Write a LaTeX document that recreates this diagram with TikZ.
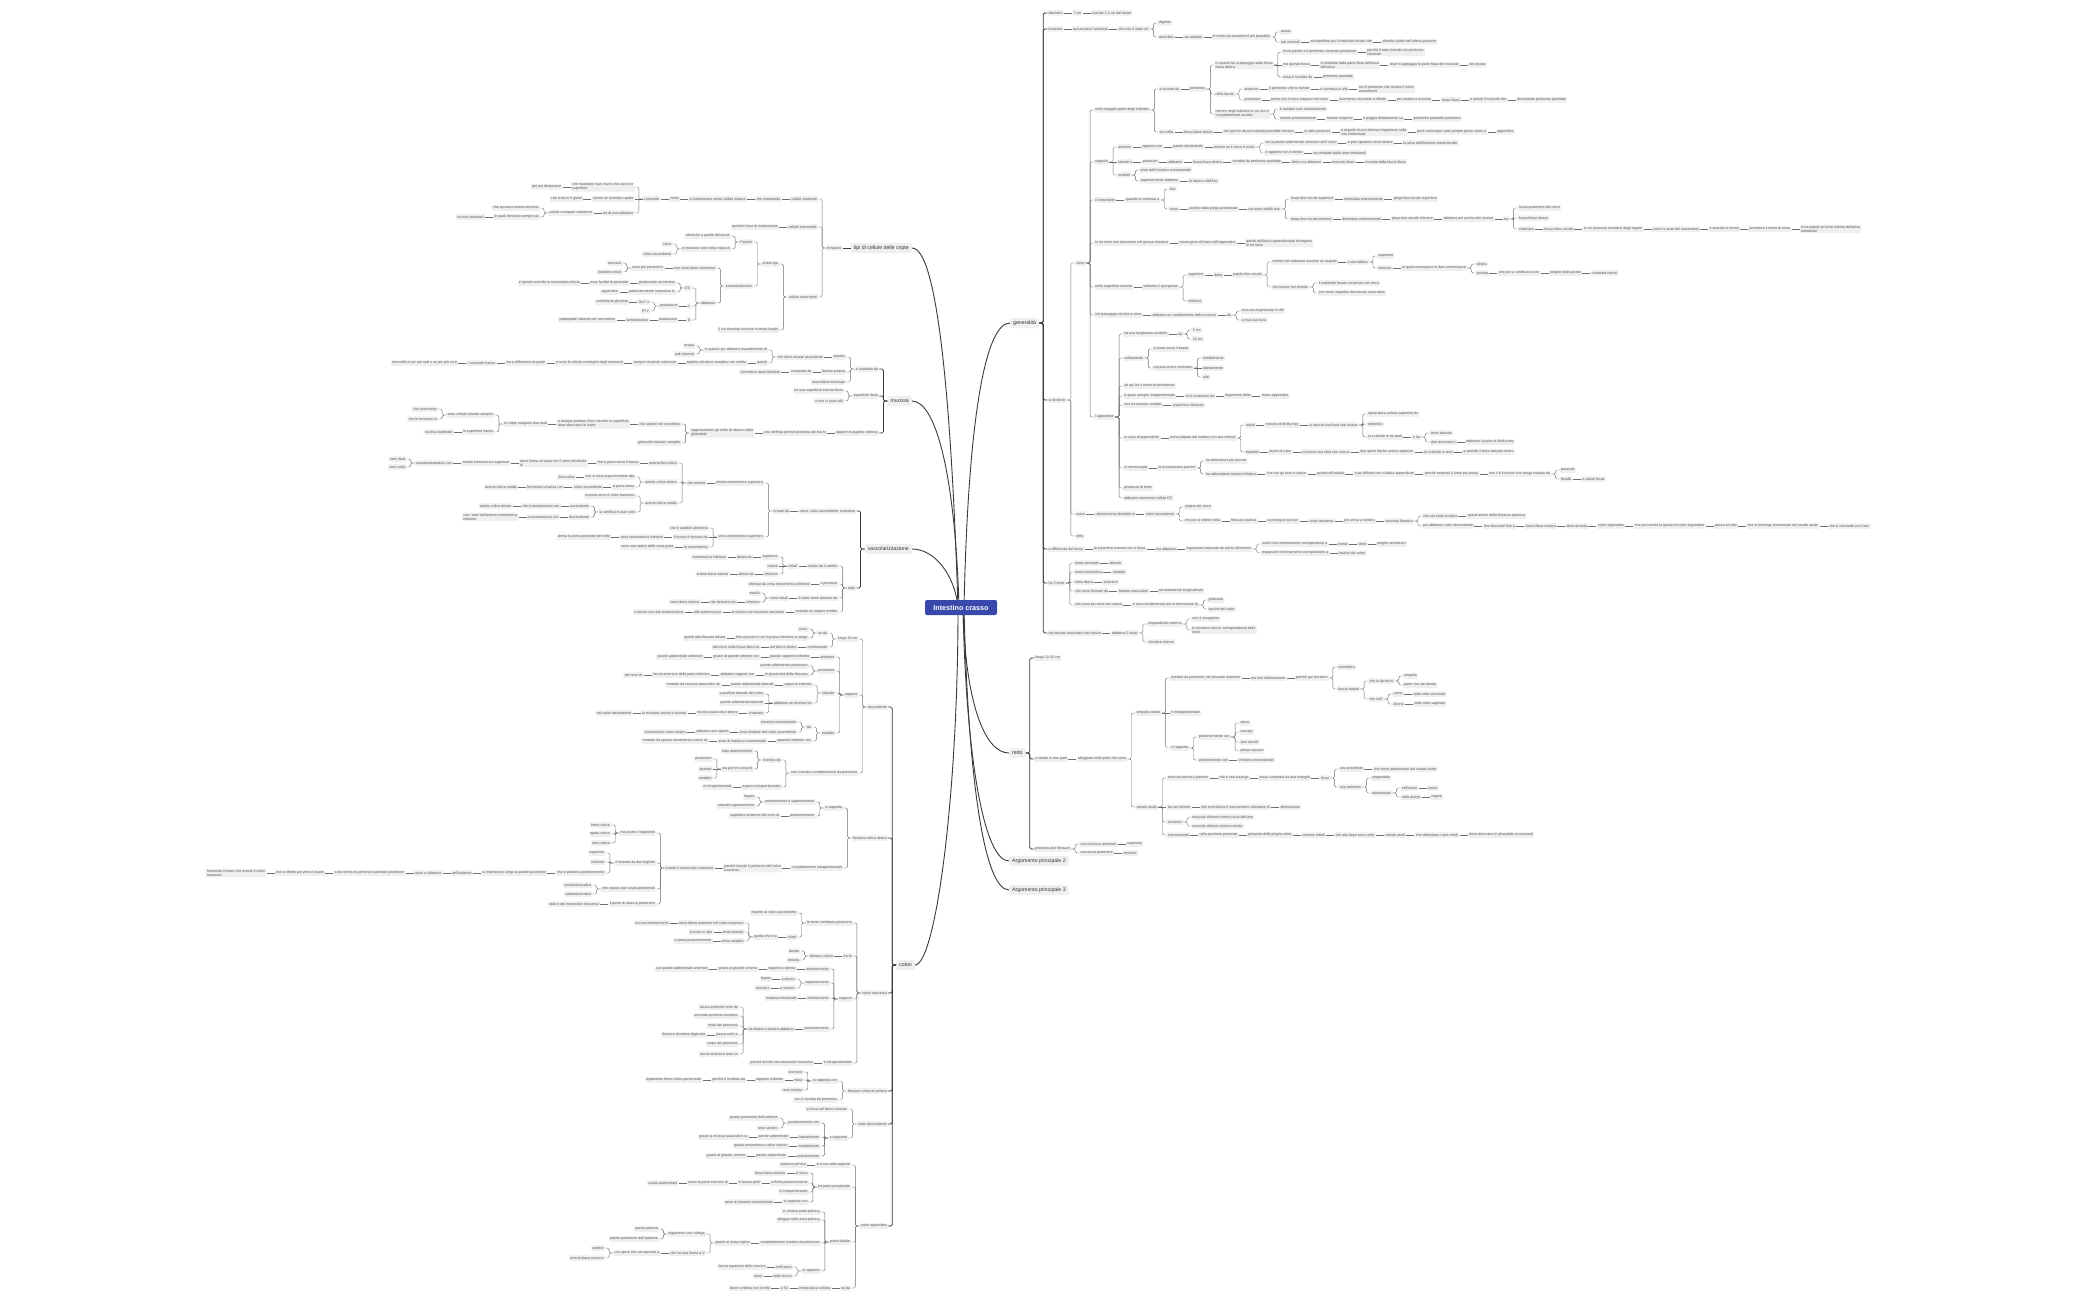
\documentclass[tikz,border=0pt]{standalone}
\usepackage{fontspec}
\setmainfont{Liberation Sans}
\usetikzlibrary{calc}
\pgfdeclarelayer{bg}
\pgfsetlayers{bg,main}
\definecolor{nfill}{HTML}{EFEFEF}
\definecolor{ntext}{HTML}{555555}
\definecolor{cline}{HTML}{6E6E6E}
\definecolor{mline}{HTML}{3A3A3A}
\definecolor{cblue}{HTML}{3949AB}
\definecolor{mtext}{HTML}{333333}
\tikzset{
  n/.style={fill=nfill,rounded corners=1pt,inner xsep=1.2pt,inner ysep=0.9pt,
    font=\fontsize{3.6}{4}\selectfont,text=ntext,align=left,minimum height=5.5pt},
  c/.style={draw=cline,line width=0.45pt,rounded corners=1.5pt},
  firstc/.style={draw=mline,line width=0.8pt,rounded corners=1.5pt},
  mainn/.style={fill=nfill,rounded corners=2pt,inner xsep=3pt,inner ysep=1.5pt,
    font=\fontsize{5.2}{6}\selectfont,text=mtext,minimum height=10pt},
  mainc/.style={draw=mline,line width=0.9pt},
  cnode/.style={fill=cblue,rounded corners=2pt,minimum width=72pt,minimum height=15pt,
    text=white,font=\bfseries\fontsize{7.2}{8}\selectfont}
}
\newcommand\mkmain[1]{\expandafter\def\csname mainnode@#1\endcsname{}}
\mkmain{gen}\mkmain{ret}\mkmain{tipi}\mkmain{muc}\mkmain{vas}\mkmain{col}
\newcommand\myconn[5]{%
  \pgfpointanchor{#1}{#3}\pgfgetlastxy{\myax}{\myay}%
  \pgfpointanchor{#2}{#4}\pgfgetlastxy{\mybx}{\myby}%
  \pgfmathsetmacro\mydy{abs((\myay)-(\myby))}%
  \ifcsname mainnode@#1\endcsname\def\mycs{firstc}\else\def\mycs{c}\fi
  \ifdim\mydy pt<0.3pt
    \draw[\mycs] (#1.#3) -- (#2.#4);
  \else
    \draw[\mycs] (#1.#3) -- ++(#5,0) |- (#2.#4);
  \fi}
\newcommand\myR[4]{%
  \path (#1.east) ++(8,0) coordinate (tmp);
  \node[n,anchor=west] (#2) at (tmp |- 0,#3) {#4};
  \myconn{#1}{#2}{east}{west}{4}}
\newcommand\myL[4]{%
  \path (#1.west) ++(-8,0) coordinate (tmp);
  \node[n,anchor=east] (#2) at (tmp |- 0,#3) {#4};
  \myconn{#1}{#2}{west}{east}{-4}}
\newcommand\chR[4]{%
  \foreach \t [count=\i] in {#4} {%
    \ifnum\i=1 \edef\myp{#1}\else \pgfmathtruncatemacro\j{\i-1}\edef\myp{#2-\j}\fi
    \myR{\myp}{#2-\i}{#3}{\t}%
  }}
\newcommand\chL[4]{%
  \foreach \t [count=\i] in {#4} {%
    \ifnum\i=1 \edef\myp{#1}\else \pgfmathtruncatemacro\j{\i-1}\edef\myp{#2-\j}\fi
    \myL{\myp}{#2-\i}{#3}{\t}%
  }}
\begin{document}
\begin{tikzpicture}[x=1pt,y=-1pt]
\begin{pgfonlayer}{bg}\fill[white] (0,0) rectangle (2100,1300);\end{pgfonlayer}
\useasboundingbox (0,0) rectangle (2100,1300);
\node[cnode] (c) at (961,607.5) {Intestino crasso};
\node[mainn,anchor=west] (gen) at (1010,323) {generalità};
\node[mainn,anchor=west] (ret) at (1009,753) {retto};
\node[mainn,anchor=west] (a2) at (1009,861) {Argomento principale 2};
\node[mainn,anchor=west] (a3) at (1009,890) {Argomento principale 3};
\node[mainn,anchor=east] (tipi) at (912,248) {tipi di cellule delle cripte};
\node[mainn,anchor=east] (muc) at (912,401) {mucosa};
\node[mainn,anchor=east] (vas) at (912,549) {vascolarizzazione};
\node[mainn,anchor=east] (col) at (915,965) {colon};
\begin{pgfonlayer}{bg}
\draw[mainc] ([xshift=-3pt]c.center) .. controls +(-6,-187) and +(27,0) .. (tipi.east);
\draw[mainc] ([xshift=-2pt]c.center) .. controls +(-4,-137) and +(23,0) .. (muc.east);
\draw[mainc] ([xshift=-3pt]c.center) .. controls +(-3,-32) and +(23,0) .. (vas.east);
\draw[mainc] ([xshift=-3pt]c.center) .. controls +(0,193) and +(20,0) .. (col.east);
\draw[mainc] ([xshift=3pt]c.center) .. controls +(4,-187) and +(-25,0) .. (gen.west);
\draw[mainc] ([xshift=2pt]c.center) .. controls +(2,93) and +(-25,0) .. (ret.west);
\draw[mainc] ([xshift=2pt]c.center) .. controls +(3,150) and +(-25,0) .. (a2.west);
\draw[mainc] ([xshift=3pt]c.center) .. controls +(4,170) and +(-25,0) .. (a3.west);
\end{pgfonlayer}
% ---------------- generalità ----------------
\chR{gen}{dia}{13}{diametro,7 cm,{scende 1,5 cm dal tenue}}
\chR{gen}{fun}{29}{funzione,accumulare l'alimento,che non è stato né}
\myR{fun-3}{dig}{23}{digerito}
\chR{fun-3}{ass}{37}{assorbito,sia idratato,in modo da assorbire il più possibile}
\myR{ass-3}{acq}{32}{acqua}
\chR{ass-3}{sal}{42}{sali minerali,ed espellere poi il materiale fecale che,diventa solido nell'ultima porzione}
\myR{gen}{div}{400}{si divide in}
\myR{div}{cie}{263}{cieco}
\myR{cie}{mag}{110}{nella maggior parte degli individui}
\chR{mag}{avv}{89}{è avvolto da,peritoneo}
\myR{avv-2}{qua}{65}{in quanto lui si appoggia sulla fossa\\iliaca destra}
\chR{qua}{fra}{52}{fra la parete e il peritoneo viscerale posteriore,{perché è tutto rivestito da peritoneo\\viscerale}}
\chR{qua}{maq}{65}{ma questa fossa,{è costituita dalla parte fissa dell'osso\\dell'anca},dove si appoggia la parte fissa del muscolo,ileo psoas}
\chR{qua}{ess}{77}{essa è rivestita da,peritoneo parietale}
\myR{avv-2}{fac}{94}{nella faccia}
\chR{fac}{ant}{89}{anteriore,il peritoneo che lo riveste,si continua in alto,{con il peritoneo che riveste il colon\\ascendente}}
\chR{fac}{pos}{100}{posteriore,prima che il cieco trapassi nel colon,il peritoneo viscerale si riflette,per andare a rivestire,fossa iliaca,e quindi il muscolo ileo,diventando peritoneo parietale}
\myR{avv-2}{men}{114}{mentre negli individui in cui non è\\completamente avvolto}
\myR{men}{riv}{109}{è rivestito solo anteriormente}
\chR{men}{mpo}{119}{mentre posteriormente,rimane scoperto,e poggia direttamente su,peritoneo parietale posteriore}
\chR{mag}{sta}{132}{sta nella,fossa iliaca destra,che però in alcuni individui potrebbe trovarsi,in altre posizioni,{a seguito di una diversa migrazione nella\\vita embrionale},però comunque sarà sempre posto vicino a,appendice}
\myR{cie}{rap}{162}{rapporti}
\chR{rap}{ran}{147}{anteriori,rapporto con,parete addominale,mentre se il cieco è vuoto}
\chR{ran-4}{tra}{143}{tra la parete addominale anteriore ed il cieco,si può spostare verso destra,la ansa dell'intestino mesenteriale}
\chR{ran-4}{ird}{153}{il rapporto non è diretto,ma mediato dalle anse intestinali}
\chR{rap}{rla}{162}{laterali e,posteriori,abbiamo,fossa iliaca destra,rivestita da peritoneo parietale,dietro cui abbiamo,muscolo iliaco,rivestito dalla fascia iliaca}
\myR{rap}{rme}{175}{mediali}
\myR{rme}{ans}{170}{anse dell'intestino mesenteriale}
\chR{rme}{sup}{181}{superiormente abbiamo,lo sbocco dell'ileo}
\chR{cie}{mes}{200}{il mesentere,quando si continua a}
\myR{mes-2}{ile}{189}{ileo}
\chR{mes-2}{cic}{209}{cieco,avvolto dalla piega peritoneale,ma sono visibili due}
\chR{cic-3}{fsu}{199}{fossa ileo-cecale superiore,delimitata anteriormente,piega ileo-cecale superiore}
\chR{cic-3}{fin}{219}{fossa ileo-cecale inferiore,delimitata anteriormente,piega ileo-cecale inferiore,abbiamo poi anche altri recessi,tra}
\myR{fin-5}{fpc}{208}{fossa posteriore del cieco}
\myR{fin-5}{fid}{218}{fossa iliaca destra}
\chR{fin-5}{chi}{229}{chiamata,fossa retro-cecale,in cui possono annidarsi degli organi,come le anse del mesenterio,e quando le forme,prendono il nome di ernia,{si ha quindi un'ernia interna dell'ansa\\intestinale}}
\chR{cie}{ltt}{243}{le tre tenie che decorrono nel grosso intestino,convergono all'inizio dell'appendice,{quindi dall'inizio appendicolare divergono\\le tre tenie}}
\chR{cie}{nse}{287}{nella superficie esterna,vediamo 2 sporgenze}
\chR{nse-2}{ssu}{275}{superiore,detta,papilla ileo-cecale}
\chR{ssu-3}{cad}{262}{mentre nel cadavere assume un aspetto,a due labbra}
\myR{cad-2}{lsu}{256}{superiore}
\chR{cad-2}{lin}{268}{inferiore,le quali convergono in due commessure}
\myR{lin-2}{des}{264}{destra}
\chR{lin-2}{sin}{273}{sinistra,che poi si continuano con,pieghe della parete,chiamate frenuli}
\myR{ssu-3}{viv}{287}{che invece nel vivente}
\myR{viv}{mat}{283}{il materiale fecale contenuto nel cieco}
\myR{viv}{imp}{293}{che viene impedito dal tessuto muscolare}
\myR{nse-2}{sin2}{301}{inferiore}
\chR{cie}{pas}{315}{nel passaggio da ileo a cieco,abbiamo un cambiamento della mucosa,da}
\myR{pas-3}{vil}{311}{mucosa organizzata in villi}
\myR{pas-3}{lis}{320}{a mucosa liscia}
\myR{cie}{app}{417}{l'appendice}
\chR{app}{lun}{334}{ha una lunghezza variabile,da}
\myR{lun-2}{l5}{330}{5 cm}
\myR{lun-2}{l15}{339}{15 cm}
\myR{app}{sol}{358}{solitamente}
\myR{sol}{sib}{349}{si porta verso il basso}
\myR{sol}{mpa}{368}{ma può anche orientarsi}
\myR{mpa}{med}{358}{medialmente}
\myR{mpa}{lat}{368}{lateralmente}
\myR{mpa}{alt}{377}{alto}
\myR{app}{ver}{386}{da qui ha il nome di vermiforme}
\chR{app}{int}{396}{è quasi sempre intraperitoneale,ed è sostenuto da,legamento detto,meso-appendice}
\chR{app}{nes}{405}{non ha nessun compito,anatomico rilevante}
\chR{app}{cas}{438}{in caso di appendicite,viene palpata dal medico con due metodi}
\chR{cas-2}{adu}{425}{adulti,metodo di McBurney,si traccia una linea che unisce}
\myR{adu-3}{spi}{414}{spina iliaca antero-superiore dx}
\myR{adu-3}{omb}{424}{ombelico}
\chR{adu-3}{tre}{437}{la si divide in tre parti,e tra}
\myR{tre-2}{ter}{433}{terzo laterale}
\chR{tre-2}{due}{442}{due terzi interni,abbiamo il punto di McBurney}
\chR{cas-2}{bam}{452}{bambini,punto di Lanz,si traccia una retta che unisce,due spine iliache antero-superiori,la si divide in terzi,si prende il terzo laterale destro}
\chR{app}{mic}{468}{in microscopia,la riconosciamo perché}
\myR{mic-2}{dim}{461}{ha dimensioni più piccole}
\chR{mic-2}{abb}{474}{ha abbondante tessuto linfatico,che con gli anni si riduce,quindi nell'adulto,è più difficile che si abbia appendicite,perché essendo il lume più ampio,non c'è il rischio che venga ostruito da}
\myR{abb-6}{par}{470}{parassiti}
\chR{abb-6}{fec}{479}{fecaliti,o calcoli fecali}
\myR{app}{ten}{488}{presenza di tenie}
\myR{app}{ec}{498}{abbiamo numerose cellule EC}
\chR{div}{col2}{514}{colon,ulteriormente divisibile in,colon ascendente}
\myR{col2-3}{ori}{507}{origina dal cieco}
\chR{col2-3}{inf}{521}{che poi si inflette nella,flessura epatica,si prosegue poi con,colon trasverso,poi arriva a sinistra,seconda flessura}
\chR{inf-6}{mil}{516}{che sta sotto la milza,quindi anche detta flessura splenica}
\chR{inf-6}{cdi}{526}{poi abbiamo colon discendente,che discende fino a,fossa iliaca sinistra,dove diventa,colon sigmoideo,che poi tramite la giunzione retto-sigmoidea,passa al retto,che si restringe terminando nel canale anale,che si conclude con l'ano}
\myR{div}{ret2}{536}{retto}
\chR{gen}{dif}{549}{a differenza del tenue,la superficie esterna non è liscia,ma abbiamo,espansioni separate da solchi all'esterno}
\chR{dif-4}{sol2}{544}{solchi che internamente corrispondono a,creste,dette,pieghe semilunari}
\chR{dif-4}{esp}{553}{espansioni internamente corrispondono a,tasche del colon}
\myR{gen}{ten3}{583}{ha 3 tenie}
\chR{ten3}{tom}{563}{tenia omentale,laterale}
\chR{ten3}{tme}{572}{tenia mesocolica,mediale}
\chR{ten3}{tli}{582}{tenia libera,anteriore}
\chR{ten3}{tfo}{591}{che sono formate da,tessuto muscolare,ad andamento longitudinale}
\chR{ten3}{tco}{605}{che sono più corte del crasso,e sono fondamentali per la formazione di}
\myR{tco-2}{gib}{600}{gibbosità}
\myR{tco-2}{tas}{609}{tasche del colon}
\chR{gen}{tmu}{633}{nel tessuto muscolare del crasso,abbiamo 2 strati}
\myR{tmu-2}{lon}{624}{longitudinale esterno}
\myR{lon}{omo}{619}{non è omogeneo}
\myR{lon}{tro}{630}{lo troviamo solo in corrispondenza delle\\tenie}
\myR{tmu-2}{cir}{642}{circolare interno}
% ---------------- retto ----------------
\myR{ret}{r15}{658}{lungo 12-15 cm}
\chR{ret}{rdi}{759}{si divide in due parti,alloggiate nella pelvi che sono}
\myR{rdi-2}{amp}{713}{ampolla rettale}
\chR{amp}{rpe}{678}{rivestita da peritoneo nel versante anteriore,ma non inferiormente,perché qui troviamo}
\myR{rpe-3}{con}{667}{connettivo}
\myR{rpe-3}{fre}{689}{fascia rettale}
\myR{fre}{chl}{681}{che la divide in}
\myR{chl}{amp2}{676}{ampolla}
\myR{chl}{pds}{685}{parte che sta dentro}
\myR{fre}{nel}{699}{che nell'}
\chR{nel}{uom}{694}{uomo,setto retto-vescicale}
\chR{nel}{don}{704}{donna,setto retto-vaginale}
\myR{amp}{ext}{713}{è extraperitoneale}
\myR{amp}{sra}{748}{si rapporta}
\myR{sra}{pcn}{737}{posteriormente con}
\myR{pcn}{sac}{723}{sacro}
\myR{pcn}{coc}{732}{coccige}
\myR{pcn}{vsa}{742}{vasi sacrali}
\myR{pcn}{pls}{751}{plesso sacrale}
\chR{sra}{acn}{760}{anteriormente con,intestino mesenteriale}
\myR{rdi-2}{can}{807}{canale anale}
\chR{can}{att}{778}{dove attraversa il perineo,che è una losanga,ossia composta da due triangoli,di cui}
\chR{att-4}{upo}{769}{uno posteriore,che viene attraversato dal canale anale}
\myR{att-4}{uan}{787}{uno anteriore}
\myR{uan}{uro}{778}{urogenitale}
\myR{uan}{atr}{793}{attraversato}
\chR{atr}{nuo}{788}{nell'uomo,uretra}
\chR{atr}{ndo}{797}{nella donna,vagina}
\chR{can}{sfi}{807}{ha vari sfinteri,che controllano il meccanismo volontario di,defecazione}
\myR{can}{tro2}{822}{troviamo}
\myR{tro2}{mli}{817}{muscolo sfintere interno liscio dell'ano}
\myR{tro2}{mst}{826}{muscolo sfintere esterno striato}
\chR{can}{inm}{835}{internamente,nella porzione profonda,presenta delle pieghe dette,colonne rettali,che alla base sono unite,valvole anali,che delimitano i seni rettali,dove sboccano le ghiandole circumanali}
\myR{ret}{fle}{849}{presenta due flessure}
\chR{fle}{fca}{844}{una concava anteriore,superiore}
\chR{fle}{fcp}{853}{convessa posteriore,inferiore}
% ---------------- tipi di cellule ----------------
\myL{tipi}{Ltr}{248}{troviamo}
\chL{Ltr}{Lst}{199}{cellule staminali,che maturando,si trasformano verso cellule mature,come,colonociti}
\chL{Lst-5}{Lmm}{187}{{che maturano man mano che vanno in\\superficie},per poi distaccarsi}
\chL{Lst-5}{Lri}{199}{hanno un ricambio rapido,che si ha in 5 giorni}
\chL{Lst-5}{Ltd}{213}{tra di essi abbiamo,cellule mucipare caliciformi}
\myL{Ltd-2}{Lnu}{208}{che qui sono numerosissime}
\chL{Ltd-2}{Lde}{217}{le quali derivano sempre da,nicchie staminali}
\chL{Ltr}{Lin}{227}{cellule intermedie,quindi in fase di maturazione}
\myL{Ltr}{Lse}{297}{cellule secernenti}
\myL{Lse}{Ldt}{264}{di due tipi}
\myL{Ldt}{Lpa}{242}{Paneth}
\myL{Lpa}{Lid}{236}{identiche a quelle del tenue}
\myL{Lpa}{Lso}{249}{le troviamo solo nella cripta di}
\myL{Lso}{Lci}{244}{cieco}
\myL{Lso}{Lca}{254}{colon ascendente}
\myL{Ldt}{Len}{286}{enteroendocrine}
\chL{Len}{Lnt}{268}{non sono tanto numerose,sono più presenti in}
\myL{Lnt-2}{Lsto}{263}{stomaco}
\myL{Lnt-2}{Lten}{272}{intestino tenue}
\myL{Len}{Lab}{303}{abbiamo}
\myL{Lab}{Lec}{288}{EC}
\chL{Lec}{Lser}{283}{produzione serotonina,essa facilita la peristalsi,e quindi controlla la muscolatura liscia}
\chL{Lec}{Lnum}{292}{particolarmente numerose in,appendice}
\chL{Lab}{Ll}{306}{L,produzione}
\chL{Ll-2}{Lglp}{302}{GLP-1,controlla la glicemia}
\myL{Ll-2}{Lpyy}{311}{PYY}
\chL{Lab}{Ld}{320}{D,produzione,somatostatina,polipeptide inibente per secrezione}
\myL{Lse}{Lric}{330}{il cui ricambio avviene in tempi lunghi}
% ---------------- mucosa ----------------
\myL{muc}{Mco}{369}{è costituita da}
\myL{Mco}{Mep}{357}{epitelio}
\myL{Mep}{Mas}{357}{che deve essere assorbente}
\myL{Mas}{Miq}{350}{in quanto qui abbiamo assorbimento di}
\myL{Miq}{Mac}{346}{acqua}
\myL{Miq}{Msa}{354}{sali minerali}
\chL{Mas}{Mqu}{363}{quindi,epitelio cilindrico semplice con orletto,sempre chiamati colonociti,e sono le cellule omologhe degli enterociti,ma a differenza di questi,i colonociti hanno,microvilli un po' più radi e un po' più corti}
\chL{Mco}{Mla}{372}{lamina propria,composta da,connettivo lasso fibrillare}
\myL{Mco}{Mmm}{382}{muscolaris mucosae}
\myL{muc}{Msl}{396}{superficie liscia}
\myL{Msl}{Mha}{391}{ha una superficie interna liscia}
\myL{Msl}{Mnv}{401}{e non ci sono villi}
\chL{muc}{Mcr}{433}{appare di aspetto cribroso,così definita perché presenta dei buchi,{rappresentano gli orifizi di sbocco della\\ghiandola}}
\chL{Mcr-3}{Mst}{424}{che stanno nel connettivo,{e dunque portano il loro secreto in superficie\\dove sboccano le cripte},le cripte svolgono due ruoli}
\myL{Mst-3}{Mtu}{415}{sono cellule tubulari semplici}
\myL{Mtu}{Mse}{409}{che secernono}
\myL{Mtu}{Mtr}{419}{che le troviamo in}
\chL{Mst-3}{Msup}{432}{in superficie hanno,nicchia staminale}
\myL{Mcr-3}{Mgh}{443}{ghiandole tubulari semplici}
% ---------------- vascolarizzazione ----------------
\chL{vas}{Vci}{511}{{cieco, colon ascendente, trasverso},irrorati da}
\chL{Vci-2}{Vam}{483}{arteria mesenterica superiore,che emette}
\chL{Vam-2}{Vic}{463}{arteria ileo-colica,che si porta verso il basso,{dove forma un'ansa con il ramo terminale\\di},arteria mesenterica superiore,anastomizzandosi con}
\myL{Vic-5}{Vr1}{459}{rami ileali}
\myL{Vic-5}{Vr2}{467}{rami colici}
\myL{Vam-2}{Vcd}{482}{arteria colica destra}
\chL{Vcd}{Vsu}{477}{che si trova superiormente alla,ileo-colica}
\chL{Vcd}{Vsp}{487}{si porta verso,colon ascendente,formando un'ansa con,arteria colica media}
\myL{Vam-2}{Vcm}{503}{arteria colica media}
\myL{Vcm}{Vtr}{496}{si porta verso il colon trasverso}
\myL{Vcm}{Vrr}{512}{si ramifica in due rami}
\chL{Vrr}{Vas}{506}{ascendente,che si anastomizza con,arteria colica destra}
\chL{Vrr}{Vdi}{517}{discendente,si anastomizza con,{con i rami dell'arteria mesenterica\\inferiore}}
\myL{Vci-2}{Vvm}{537}{vena mesenterica superiore}
\myL{Vvm}{Vsat}{528}{che è satellite all'arteria}
\chL{Vvm}{Vtro}{537}{il tronco è formato da,vena mesenterica inferiore,drena la prima porzione del retto}
\chL{Vvm}{Vla}{547}{la mesenterica,sono una radice della vena porta}
\myL{vas}{Vre}{588}{retto}
\chL{Vre}{Vnu}{566}{nutrito da 3 arterie,rettali}
\chL{Vnu-2}{Vsup}{557}{superiore,deriva da,mesenterica inferiore}
\myL{Vnu-2}{Vmed}{566}{media}
\chL{Vnu-2}{Vinf}{574}{inferiore,deriva da,arteria iliaca interna}
\chL{Vre}{Vpo}{584}{1 porzione,drenata da vena mesenterica inferiore}
\chL{Vre}{Vres}{598}{il resto viene drenato da,vene rettali}
\myL{Vres-2}{Vvme}{593}{media}
\chL{Vres-2}{Vvin}{602}{inferiore,che derivano da,vena iliaca interna}
\chL{Vre}{Vcr}{612}{creando un organo erettile,la tonaca con funzione vascolare,alla sottomucosa,e forma una rete anastomotica}
% ---------------- colon ----------------
\myL{col}{Cas}{707}{ascendente}
\myL{Cas}{Clu}{639}{lungo 15 cm}
\myL{Clu}{Car}{633}{va da}
\myL{Car}{Ccie}{629}{cieco}
\chL{Car}{Cpu}{638}{fino al punto in cui il grosso intestino si piega,quindi alla flessura destra}
\chL{Clu}{Ccon}{647}{continuando,nel fianco destro,dal cieco nella fossa iliaca dx}
\myL{Cas}{Cra}{695}{rapporti}
\chL{Cra}{Cant}{657}{anteriore,grande rapporto indiretto,grazie al grande omento con,parete addominale anteriore}
\myL{Cra}{Cpos}{671}{posteriore}
\myL{Cpos}{Cpap}{666}{parete addominale posteriore}
\chL{Cpos}{Cpro}{675}{in prossimità della flessura,abbiamo rapporti con,faccia anteriore della parte inferiore,del rene dx}
\myL{Cra}{Clat}{693}{laterale}
\chL{Clat}{Cri}{685}{rapporto indiretto,parete addominale laterale,mediato da recesso paracolico dx}
\myL{Clat}{Crec}{703}{abbiamo un recesso tra}
\myL{Crec}{Csl}{694}{superficie laterale del colon}
\myL{Crec}{Cpal}{703}{parete addominale laterale}
\chL{Crec}{Cchi}{713}{chiamato,recesso paracolico destro,lo troviamo anche a sinistra,nel colon discendente}
\myL{Cra}{Cmed}{733}{mediale}
\myL{Cmed}{Ctra}{727}{tra}
\myL{Ctra}{Cim}{722}{intestino mesenteriale}
\chL{Ctra}{Cam}{732}{ansa mediale del colon ascendente,abbiamo uno spazio,mesenterico-colico destro}
\chL{Cmed}{Crin}{741}{rapporto indiretto con,anse di intestino mesenteriale,mediato da spazio mesenterico-colico dx}
\myL{Cas}{Cnr}{773}{non rivestito completamente da peritoneo}
\myL{Cnr}{Cda}{760}{rivestito da}
\myL{Cda}{Cta}{751}{tutto anteriormente}
\myL{Cda}{Cve}{769}{ma per tre versanti}
\myL{Cve}{Cvp}{759}{posteriore}
\myL{Cve}{Cvl}{769}{laterale}
\myL{Cve}{Cvm}{778}{mediale}
\chL{Cnr}{Cre}{787}{organo extraperitoneale,è retroperitoneale}
\myL{col}{Cfd}{838}{flessura colica destra}
\myL{Cfd}{Csr}{808}{si rapporta}
\myL{Csr}{Cas2}{802}{anteriormente e superiormente}
\myL{Cas2}{Cfeg}{797}{fegato}
\myL{Cas2}{Ccol}{806}{colecisti superiormente}
\chL{Csr}{Cpr}{816}{posteriormente,superficie anteriore del rene dx}
\chL{Cfd}{Cci}{868}{completamente intraperitoneale,{perché riveste il peritoneo del colon\\trasverso},tramite il mesocolon trasverso}
\myL{Cci-3}{Clg}{833}{ma anche i legamenti}
\myL{Clg}{Cfc}{825}{freno-colico}
\myL{Clg}{Cec}{834}{epato-colico}
\myL{Clg}{Crc}{843}{reno-colico}
\myL{Cci-3}{Cfo}{863}{è formato da due foglietti}
\myL{Cfo}{Cfs}{853}{superiore}
\myL{Cfo}{Cfi}{862}{inferiore}
\chL{Cfo}{Cpp}{873}{che si portano posteriormente,si inseriscono lungo la parete posteriore,dell'addome,dove si riflettono,sotto forma di peritoneo parietale posteriore,che si riflette poi verso l'avanti,{formando il meso che riveste il colon\\trasverso}}
\myL{Cci-3}{Csep}{889}{che separa due cavità peritoneali}
\myL{Csep}{Csov}{885}{sovramesocolica}
\myL{Csep}{Csot}{894}{sottomesocolica}
\chL{Cci-3}{Cpun}{904}{il punto di attacco posteriore,radice del mesocolon trasverso}
\myL{col}{Ctr}{993}{colon trasverso}
\myL{Ctr}{Cte}{923}{le tenie cambiano posizione}
\myL{Cte}{Cri2}{913}{rispetto al colon ascendente}
\chL{Cte}{Cinf}{937}{infatti,quella che era}
\chL{Cinf-2}{Ctl}{923}{tenia libera anteriore nel colon trasverso,si trova inferiormente}
\chL{Cinf-2}{Ctla}{932}{tenia laterale,si trova in alto}
\chL{Cinf-2}{Ctm}{941}{tenia mediale,si porta posteriormente}
\chL{Ctr}{Ctl2}{956}{tra la,flessura colica}
\myL{Ctl2-2}{Cds}{951}{destra}
\myL{Ctl2-2}{Csn}{960}{sinistra}
\myL{Ctr}{Crap}{999}{rapporti}
\chL{Crap}{Ca1}{969}{anteriormente,rapporto indiretto,grazie al grande omento,con parete addominale anteriore}
\myL{Crap}{Cs1}{983}{superiormente}
\chL{Cs1}{Cad}{979}{a destra,fegato}
\chL{Cs1}{Casn}{988}{a sinistra,stomaco}
\chL{Crap}{Ci1}{998}{inferiormente,matassa intestinale}
\chL{Crap}{Cp1}{1029}{posteriormente,da destra a sinistra abbiamo}
\myL{Cp1-2}{Cq1}{1007}{faccia anteriore rene dx}
\myL{Cp1-2}{Cq2}{1016}{seconda porzione duodeno}
\myL{Cp1-2}{Cq3}{1026}{testa del pancreas}
\chL{Cp1-2}{Cq4}{1035}{passa sotto a,flessura duodeno-digiunale}
\myL{Cp1-2}{Cq5}{1044}{corpo del pancreas}
\myL{Cp1-2}{Cq6}{1054}{faccia anteriore rene sx}
\chL{Ctr}{Cint}{1063}{è intraperitoneale,perché avvolto da mesocolon trasverso}
\myL{col}{Cfs2}{1091}{flessura colica di sinistra}
\myL{Cfs2}{Csrc}{1081}{si rapporta con}
\myL{Csrc}{Cst}{1072}{stomaco}
\chL{Csrc}{Cmi}{1080}{milza,rapporto indiretto,perché è mediato da,legamento freno-colico peritoneale}
\myL{Csrc}{Crs}{1090}{rene sinistro}
\myL{Cfs2}{Cnav}{1100}{non è avvolta da peritoneo}
\myL{col}{Cdi}{1124}{colon discendente}
\myL{Cdi}{Cfi2}{1109}{si trova nel fianco sinistro}
\myL{Cdi}{Csr2}{1138}{si rapporta}
\myL{Csr2}{Cpc}{1123}{posteriormente con}
\myL{Cpc}{Cpp2}{1118}{parete posteriore dell'addome}
\myL{Cpc}{Crs2}{1128}{rene sinistro}
\chL{Csr2}{Clt}{1137}{lateralmente,parete addominale,grazie a recesso paracolico sx}
\chL{Csr2}{Cmd}{1146}{medialmente,spazio mesenterico-colico sinistro}
\chL{Csr2}{Can}{1156}{anteriormente,parete addominale,grazie al grande omento}
\myL{col}{Csi}{1226}{colon sigmoideo}
\chL{Csi}{Creg}{1165}{si trova nella regione,addome pelvico}
\myL{Csi}{Cpx}{1187}{ha parte prossimale}
\chL{Cpx}{Cst2}{1173}{si trova,fossa iliaca sinistra}
\chL{Cpx}{Cfp}{1183}{si flette posteriormente,in basso pelvi,verso la parte inferiore di,cavità addominale}
\myL{Cpx}{Cip}{1192}{è intraperitoneale}
\chL{Cpx}{Crw}{1202}{si rapporta con,anse di intestino mesenteriale}
\myL{Csi}{Cpd}{1242}{parte distale}
\myL{Cpd}{Cpp3}{1212}{si chiama parte pelvica}
\myL{Cpd}{Call}{1220}{alloggia nella zona pelvica}
\chL{Cpd}{Ccr}{1243}{completamente rivestita da peritoneo,grazie al meso-sigma}
\myL{Ccr-2}{Clc}{1234}{legamento che collega}
\myL{Clc}{Cppe}{1229}{parete pelvica}
\myL{Clc}{Cppa}{1239}{parete posteriore dell'addome}
\chL{Ccr-2}{Cfv}{1253}{che ha una forma a V,con apice che corrisponde a}
\myL{Cfv-2}{Cur}{1248}{uretere}
\myL{Cfv-2}{Cail}{1258}{arteria iliaca comune}
\myL{Cpd}{Csr3}{1271}{si rapporta}
\chL{Csr3}{Cuo}{1267}{nell'uomo,faccia superiore della vescica}
\chL{Csr3}{Cdo}{1276}{nella donna,utero}
\chL{Csi}{Cva}{1288}{va da,cresta iliaca sinistra,a S3,dove continua con il retto}
\end{tikzpicture}
\end{document}
